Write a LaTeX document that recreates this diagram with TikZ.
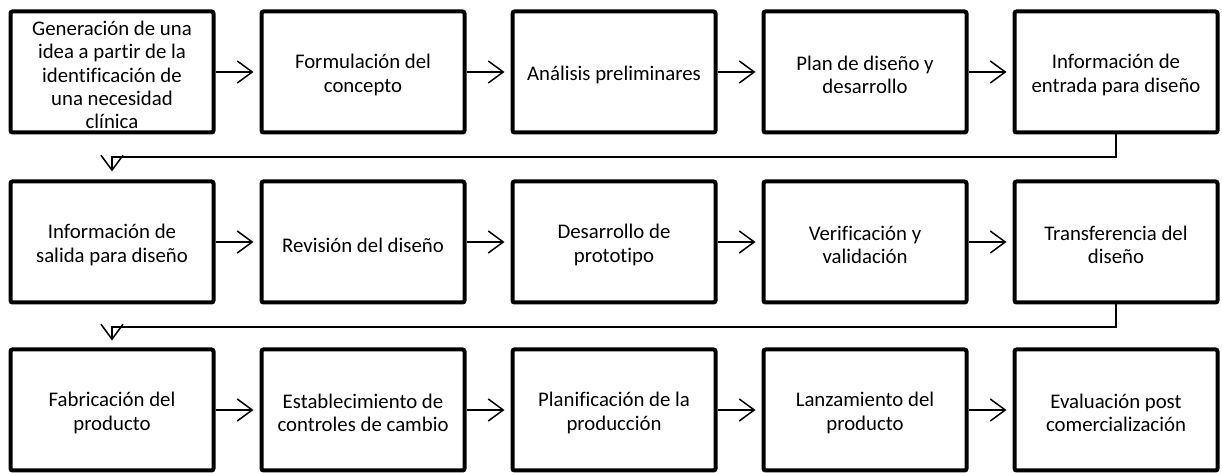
\documentclass[tikz,border=0pt]{standalone}
\usepackage{fontspec}
\setmainfont{Carlito}[Ligatures=NoCommon]
\usetikzlibrary{arrows.meta}
\begin{document}
\begin{tikzpicture}[x=1pt,y=1pt,
  box/.style={draw, line width=4pt, rounded corners=2pt, minimum width=203pt, minimum height=121pt, inner sep=0pt,
    label={[boxtext]center:{#1}}},
  boxtext/.style={align=center, inner sep=0pt, yshift=-3pt, font=\fontsize{20.8}{23.3}\selectfont},
  conn/.style={line width=1.5pt, -{Straight Barb[length=15pt,width=22pt,line width=1.5pt]}},
  wrap/.style={line width=1.2pt, -{Straight Barb[length=15pt,width=22pt,line width=1.5pt]}}]
\useasboundingbox (0,0) rectangle (1222,473);
% row 1
\node[box={Generación de una\\idea a partir de la\\identificación de\\una necesidad\\clínica}] (a1) at (112,401) {};
\node[box={Formulación del\\concepto}] (b1) at (363,401) {};
\node[box={Análisis preliminares}] (c1) at (614,401) {};
\node[box={Plan de diseño y\\desarrollo}] (d1) at (865,401) {};
\node[box={Información de\\entrada para diseño}] (e1) at (1116,401) {};
% row 2
\node[box={Información de\\salida para diseño}] (a2) at (112,231) {};
\node[box={Revisión del diseño}] (b2) at (363,231) {};
\node[box={Desarrollo de\\prototipo}] (c2) at (614,231) {};
\node[box={Verificación y\\validación}] (d2) at (865,231) {};
\node[box={Transferencia del\\diseño}] (e2) at (1116,231) {};
% row 3
\node[box={Fabricación del\\producto}] (a3) at (112,63) {};
\node[box={Establecimiento de\\controles de cambio}] (b3) at (363,63) {};
\node[box={Planificación de la\\producción}] (c3) at (614,63) {};
\node[box={Lanzamiento del\\producto}] (d3) at (865,63) {};
\node[box={Evaluación post\\comercialización}] (e3) at (1116,63) {};
% horizontal arrows
\foreach \r in {1,2,3}{
  \draw[conn] (a\r.east) -- ([xshift=-6pt]b\r.west);
  \draw[conn] (b\r.east) -- ([xshift=-6pt]c\r.west);
  \draw[conn] (c\r.east) -- ([xshift=-6pt]d\r.west);
  \draw[conn] (d\r.east) -- ([xshift=-6pt]e\r.west);
}
% wrap connectors
\coordinate (w1) at (1116,316);
\coordinate (w2) at (1116,146);
\draw[wrap] (e1.south) -- (e1.south |- w1) -- (a2.north |- w1) -- ([yshift=8pt]a2.north);
\draw[wrap] (e2.south) -- (e2.south |- w2) -- (a3.north |- w2) -- ([yshift=7pt]a3.north);
\end{tikzpicture}
\end{document}
